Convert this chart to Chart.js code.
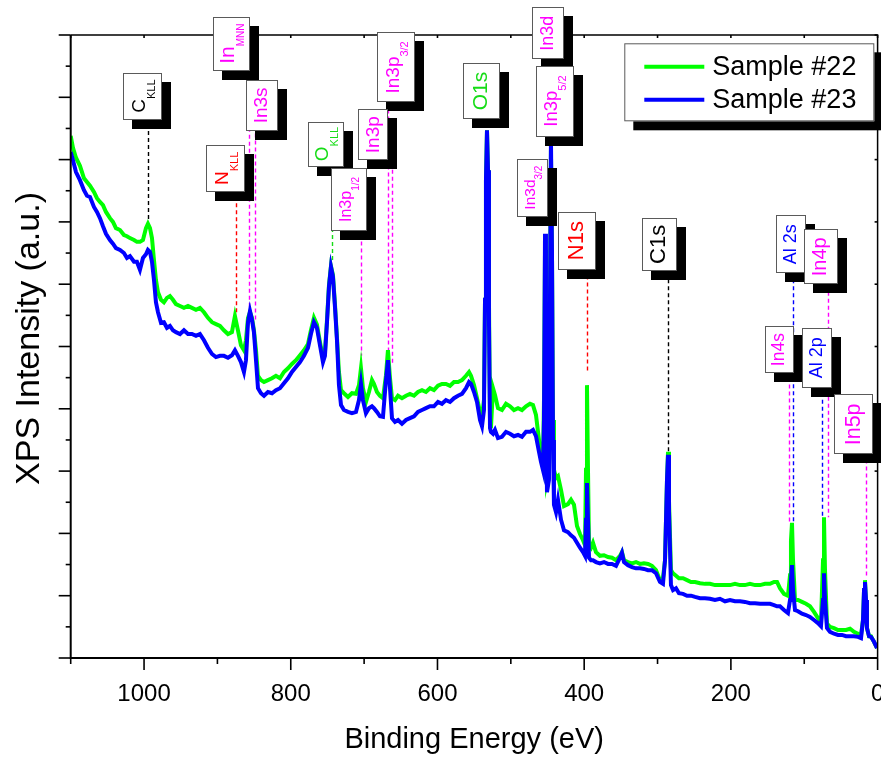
<!DOCTYPE html>
<html>
<head>
<meta charset="utf-8">
<title>XPS survey</title>
<script src="https://cdn.jsdelivr.net/npm/chart.js@4.4.1/dist/chart.umd.min.js"></script>
<style>
  html, body { margin: 0; padding: 0; background: #fff; }
  #wrap { width: 881px; height: 758px; }
</style>
</head>
<body>
<div id="wrap"><canvas id="xps" width="881" height="758"></canvas></div>
<script>
// binding energy grid (eV), shared by both survey scans
const energy = [
  1100.0, 1096.9, 1092.8, 1087.4, 1081.9, 1077.8, 1073.7, 1068.3, 1064.2, 1060.1,
  1056.0, 1051.9, 1046.5, 1042.4, 1038.3, 1032.8, 1027.4, 1023.3, 1019.2, 1013.7,
  1009.7, 1005.6, 1001.5, 997.4, 994.7, 991.9, 989.2, 986.5, 983.8, 981.0,
  976.9, 972.9, 968.8, 964.7, 960.6, 956.5, 951.0, 945.6, 940.1, 934.7,
  929.2, 923.8, 918.3, 912.9, 907.4, 902.0, 896.5, 891.1, 885.6, 880.2,
  876.1, 872.0, 867.9, 863.8, 861.1, 858.3, 855.6, 852.9, 850.2, 847.4,
  844.7, 840.6, 836.5, 831.1, 825.6, 820.2, 814.7, 809.3, 803.8, 798.4,
  792.9, 787.4, 782.0, 776.5, 772.5, 768.4, 764.3, 760.2, 756.1, 753.4,
  750.6, 747.9, 745.2, 742.5, 739.7, 737.0, 734.3, 731.5, 727.5, 722.0,
  716.6, 711.1, 707.0, 704.3, 701.6, 697.5, 693.4, 689.3, 686.6, 682.5,
  678.4, 674.3, 670.2, 667.5, 664.7, 662.0, 657.9, 653.8, 648.4, 642.9,
  637.5, 632.0, 626.6, 621.1, 615.7, 610.2, 604.8, 599.3, 593.9, 588.4,
  582.9, 577.5, 572.0, 566.6, 561.1, 557.0, 554.3, 550.2, 546.1, 542.0,
  539.3, 536.6, 535.2, 533.9, 532.5, 531.1, 529.8, 528.4, 527.1, 524.3,
  521.6, 517.5, 512.1, 506.6, 501.1, 495.7, 490.2, 484.8, 479.3, 473.9,
  469.8, 465.7, 461.6, 458.9, 456.2, 454.8, 453.4, 452.1, 450.7, 448.0,
  446.6, 445.3, 443.9, 442.5, 441.2, 438.4, 435.7, 431.6, 427.5, 422.1,
  418.0, 413.9, 409.8, 405.7, 401.6, 398.9, 397.5, 396.2, 394.8, 393.4,
  390.7, 388.0, 383.9, 378.5, 373.0, 367.5, 362.1, 356.6, 351.2, 348.5,
  345.7, 340.3, 334.8, 329.4, 323.9, 318.5, 313.0, 307.6, 302.1, 296.7,
  292.6, 289.8, 287.1, 285.7, 284.4, 281.7, 278.9, 274.8, 270.8, 265.3,
  259.8, 254.4, 248.9, 242.1, 235.3, 228.5, 221.7, 214.9, 208.0, 201.2,
  194.4, 187.6, 180.8, 174.0, 167.1, 160.3, 153.5, 146.7, 141.2, 137.1,
  133.1, 127.6, 122.2, 119.4, 118.1, 116.7, 115.3, 112.6, 108.5, 103.1,
  97.6, 92.2, 86.7, 81.3, 77.2, 74.4, 73.1, 71.7, 69.0, 64.9,
  59.4, 54.0, 48.5, 43.1, 37.6, 32.2, 26.7, 22.6, 19.9, 18.5,
  17.2, 15.8, 14.5, 11.7, 9.0, 4.9, 0.8
];

// intensity, arbitrary units
const sample22 = [
  8.38, 8.19, 8.03, 7.90, 7.70, 7.64, 7.58, 7.48, 7.38, 7.32,
  7.27, 7.16, 7.06, 7.00, 6.90, 6.87, 6.79, 6.77, 6.74, 6.71,
  6.68, 6.68, 6.71, 6.90, 6.97, 6.90, 6.74, 6.39, 6.07, 5.87,
  5.75, 5.71, 5.78, 5.81, 5.75, 5.68, 5.65, 5.62, 5.65, 5.62,
  5.59, 5.62, 5.55, 5.46, 5.39, 5.36, 5.33, 5.26, 5.20, 5.23,
  5.49, 5.26, 5.02, 4.94, 5.10, 5.46, 5.55, 5.46, 5.26, 4.94,
  4.53, 4.46, 4.43, 4.46, 4.49, 4.53, 4.49, 4.59, 4.65, 4.72,
  4.78, 4.86, 4.94, 5.04, 5.26, 5.46, 5.35, 5.07, 4.82, 4.91,
  5.43, 5.99, 6.29, 6.15, 5.67, 5.14, 4.59, 4.30, 4.25, 4.19,
  4.25, 4.24, 4.38, 4.65, 4.33, 4.11, 4.27, 4.46, 4.40, 4.27,
  4.21, 4.17, 4.54, 4.94, 4.49, 4.17, 4.14, 4.21, 4.17, 4.21,
  4.24, 4.21, 4.27, 4.30, 4.27, 4.33, 4.30, 4.37, 4.40, 4.40,
  4.37, 4.43, 4.43, 4.46, 4.53, 4.59, 4.53, 4.38, 4.17, 3.95,
  3.88, 4.14, 5.75, 7.67, 8.47, 7.83, 5.75, 3.82, 3.69, 4.33,
  4.22, 4.01, 3.98, 4.08, 4.04, 3.98, 4.01, 3.98, 4.04, 4.08,
  4.06, 3.90, 3.50, 3.26, 3.10, 4.14, 6.55, 4.78, 2.86, 3.02,
  5.75, 8.15, 6.55, 3.82, 3.02, 2.89, 2.92, 2.70, 2.44, 2.47,
  2.54, 2.46, 2.12, 1.99, 1.89, 1.81, 3.02, 4.38, 3.02, 1.81,
  1.77, 1.85, 1.70, 1.64, 1.65, 1.62, 1.61, 1.57, 1.64, 1.70,
  1.57, 1.54, 1.52, 1.54, 1.51, 1.52, 1.51, 1.48, 1.41, 1.25,
  1.28, 1.57, 2.86, 3.31, 2.54, 1.41, 1.36, 1.32, 1.28, 1.28,
  1.25, 1.22, 1.22, 1.20, 1.19, 1.19, 1.17, 1.17, 1.17, 1.17,
  1.19, 1.17, 1.17, 1.19, 1.17, 1.17, 1.19, 1.19, 1.22, 1.22,
  1.12, 1.03, 1.00, 1.33, 1.89, 2.17, 1.57, 0.93, 0.93, 0.90,
  0.87, 0.83, 0.74, 0.64, 0.58, 1.57, 2.26, 1.41, 0.55, 0.50,
  0.48, 0.45, 0.45, 0.45, 0.47, 0.42, 0.39, 0.37, 0.61, 1.09,
  1.25, 0.93, 0.48, 0.35, 0.35, 0.26, 0.16
];

const sample23 = [
  8.12, 7.99, 7.80, 7.67, 7.51, 7.42, 7.40, 7.24, 7.16, 7.06,
  6.93, 6.81, 6.71, 6.65, 6.58, 6.55, 6.50, 6.42, 6.45, 6.36,
  6.36, 6.23, 6.42, 6.48, 6.55, 6.52, 6.36, 6.07, 5.71, 5.55,
  5.38, 5.39, 5.30, 5.33, 5.26, 5.23, 5.20, 5.26, 5.20, 5.20,
  5.17, 5.20, 5.10, 4.98, 4.88, 4.83, 4.85, 4.85, 4.82, 4.86,
  4.94, 4.85, 4.75, 4.59, 4.78, 5.39, 5.57, 5.43, 5.23, 4.78,
  4.33, 4.25, 4.21, 4.27, 4.25, 4.30, 4.33, 4.41, 4.49, 4.59,
  4.67, 4.75, 4.85, 4.98, 5.20, 5.39, 5.30, 5.02, 4.75, 4.85,
  5.39, 5.96, 6.28, 6.12, 5.63, 5.10, 4.38, 4.06, 3.98, 3.95,
  3.93, 3.95, 4.14, 4.40, 4.14, 3.93, 4.01, 4.04, 4.01, 3.95,
  3.88, 3.87, 4.46, 4.78, 4.33, 3.85, 3.79, 3.82, 3.76, 3.82,
  3.85, 3.88, 3.95, 3.98, 4.01, 4.04, 4.04, 4.11, 4.08, 4.14,
  4.11, 4.17, 4.21, 4.24, 4.33, 4.43, 4.40, 4.27, 4.11, 3.82,
  3.72, 3.98, 5.75, 7.67, 8.47, 7.83, 5.43, 3.69, 3.63, 3.60,
  3.66, 3.53, 3.55, 3.63, 3.60, 3.56, 3.58, 3.55, 3.63, 3.63,
  3.66, 3.56, 3.31, 3.15, 3.02, 3.82, 6.81, 4.46, 2.66, 2.86,
  5.75, 8.35, 6.55, 3.50, 2.46, 2.34, 2.54, 2.22, 2.05, 2.02,
  1.97, 1.93, 1.85, 1.77, 1.70, 1.64, 2.22, 2.81, 2.22, 1.61,
  1.57, 1.57, 1.54, 1.52, 1.54, 1.51, 1.51, 1.48, 1.61, 1.69,
  1.54, 1.49, 1.46, 1.44, 1.44, 1.43, 1.41, 1.41, 1.36, 1.22,
  1.19, 1.57, 2.86, 3.26, 2.38, 1.17, 1.09, 1.12, 1.04, 1.03,
  1.00, 1.00, 0.98, 0.96, 0.96, 0.95, 0.93, 0.95, 0.91, 0.93,
  0.91, 0.91, 0.90, 0.88, 0.88, 0.87, 0.87, 0.87, 0.85, 0.83,
  0.83, 0.77, 0.72, 0.93, 1.25, 1.49, 1.09, 0.77, 0.75, 0.71,
  0.69, 0.66, 0.61, 0.56, 0.51, 0.93, 1.36, 0.93, 0.48, 0.42,
  0.39, 0.37, 0.37, 0.35, 0.35, 0.35, 0.34, 0.32, 0.61, 1.09,
  1.22, 0.93, 0.48, 0.35, 0.34, 0.26, 0.16
];

const seriesNames = ['Sample #22', 'Sample #23'];
const seriesColors = ['#00ff00', '#0000ff'];
const xTicks = [0, 200, 400, 600, 800, 1000];
const yTitle = 'XPS Intensity (a.u.)';

const FONT = '"Liberation Sans", Arial, Helvetica, sans-serif';
const MAG = '#ff00ff', RED = '#ff0000', GRN = '#16dc16', BLU = '#0000ff', BLK = '#000000';

// peak tags: text + subscript, marker energy (at), where the dashed marker stops (lineTo),
// tag centre in data units (boxE, boxV), tag size in px, font sizes
const peakLabels = [
  { main: 'C', sub: 'KLL', color: BLK, at: 994.3, lineTo: 7.00, boxE: 1001.5, boxV: 9.02, w: 39, h: 47, size: 19, subSize: 11 },
  { main: 'In', sub: 'MNN', color: MAG, at: 856.6, lineTo: 5.59, boxE: 880.6, boxV: 9.86, w: 37, h: 54, size: 21, subSize: 10 },
  { main: 'N', sub: 'KLL', color: RED, at: 874.7, lineTo: 5.51, boxE: 888.3, boxV: 7.86, w: 39, h: 47, size: 19, subSize: 11 },
  { main: 'In3s', color: MAG, at: 848.8, lineTo: 5.39, boxE: 839.3, boxV: 8.87, w: 32, h: 51, size: 19 },
  { main: 'O', sub: 'KLL', color: GRN, at: 744.2, lineTo: 6.36, boxE: 752.0, boxV: 8.25, w: 36, h: 45, size: 19, subSize: 11 },
  { main: 'In3p', sub: '3/2', color: MAG, at: 667.9, lineTo: 4.74, boxE: 655.9, boxV: 9.48, w: 38, h: 70, size: 19, subSize: 11 },
  { main: 'In3p', color: MAG, at: 662.0, lineTo: 4.70, boxE: 687.5, boxV: 8.40, w: 30, h: 51, size: 19 },
  { main: 'In3p', sub: '1/2', color: MAG, at: 704.7, lineTo: 4.85, boxE: 720.8, boxV: 7.36, w: 36, h: 63, size: 16, subSize: 10 },
  { main: 'O1s', color: GRN, boxE: 539.8, boxV: 9.10, w: 37, h: 56, size: 21 },
  { main: 'In3d', color: MAG, boxE: 448.9, boxV: 10.03, w: 32, h: 52, size: 18 },
  { main: 'In3p', sub: '5/2', color: MAG, boxE: 440.0, boxV: 8.94, w: 38, h: 71, size: 18.5, subSize: 11 },
  { main: 'In3d', sub: '3/2', color: MAG, boxE: 470.1, boxV: 7.55, w: 31, h: 58, size: 15.5, subSize: 10 },
  { main: 'N1s', color: RED, at: 396.6, lineTo: 4.57, boxE: 410.0, boxV: 6.70, w: 38, h: 58, size: 22 },
  { main: 'C1s', color: BLK, at: 285.3, lineTo: 3.31, boxE: 297.7, boxV: 6.64, w: 35, h: 53, size: 22 },
  { main: 'Al 2s', color: BLU, at: 114.9, lineTo: 2.17, boxE: 118.5, boxV: 6.64, w: 30, h: 58, size: 18 },
  { main: 'In4p', color: MAG, at: 68.0, lineTo: 2.26, boxE: 77.8, boxV: 6.44, w: 34, h: 55, size: 20 },
  { main: 'In4s', color: MAG, at: 120.4, lineTo: 2.17, boxE: 133.5, boxV: 4.95, w: 29, h: 47, size: 17.5 },
  { main: 'Al 2p', color: BLU, at: 75.4, lineTo: 2.26, boxE: 82.2, boxV: 4.82, w: 30, h: 60, size: 18 },
  { main: 'In5p', color: MAG, at: 15.8, lineTo: 1.28, boxE: 32.4, boxV: 3.75, w: 39, h: 60, size: 21.5 }
];

const SHADOW = 9;

function shadowBox(ctx, x, y, w, h) {
  ctx.fillStyle = '#000';
  ctx.fillRect(x + SHADOW, y + SHADOW, w, h);
  ctx.fillStyle = '#fff';
  ctx.fillRect(x, y, w, h);
  ctx.strokeStyle = '#5a5a5a';
  ctx.lineWidth = 1;
  ctx.strokeRect(x + 0.5, y + 0.5, w - 1, h - 1);
}

function tick(ctx, x1, y1, x2, y2) {
  ctx.beginPath();
  ctx.moveTo(x1, y1);
  ctx.lineTo(x2, y2);
  ctx.stroke();
}

const decor = {
  id: 'decor',
  beforeDatasetsDraw(chart) {
    // dashed peak markers sit under the spectra
    const { ctx, scales: { x, y } } = chart;
    ctx.save();
    ctx.lineWidth = 1.4;
    ctx.setLineDash([4, 3]);
    peakLabels.forEach(p => {
      if (p.at == null) return;
      const px = Math.round(x.getPixelForValue(p.at)) + 0.5;
      ctx.strokeStyle = p.color;
      ctx.beginPath();
      ctx.moveTo(px, y.getPixelForValue(p.boxV));
      ctx.lineTo(px, y.getPixelForValue(p.lineTo));
      ctx.stroke();
    });
    ctx.restore();
  },
  afterDatasetsDraw(chart) {
    const { ctx, chartArea: { left, right, top, bottom }, scales: { x, y } } = chart;
    ctx.save();

    // frame
    ctx.strokeStyle = '#000';
    ctx.lineWidth = 1.5;
    ctx.beginPath();
    ctx.moveTo(left, top); ctx.lineTo(right, top); ctx.lineTo(right, bottom);
    ctx.stroke();
    ctx.lineWidth = 2;
    ctx.beginPath();
    ctx.moveTo(left, top); ctx.lineTo(left, bottom); ctx.lineTo(right, bottom);
    ctx.stroke();

    // ticks: outward on bottom/left, small inward marks on top/right
    ctx.lineWidth = 1.6;
    for (let e = 0; e <= 1100; e += 100) {
      const px = x.getPixelForValue(e);
      tick(ctx, px, bottom, px, bottom + (e % 200 === 0 ? 12 : 6));
      tick(ctx, px, top, px, top + 3);
    }
    for (let v = 0; v <= 10; v += 0.5) {
      const py = y.getPixelForValue(v);
      tick(ctx, left, py, left - (v % 1 === 0 ? 12 : 5), py);
      if (v % 1 === 0) tick(ctx, right, py, right - 3, py);
    }

    // y axis title, sits a little above the axis middle
    ctx.save();
    ctx.translate(29.5, (top + bottom) / 2 - 8);
    ctx.rotate(-Math.PI / 2);
    ctx.font = '34px ' + FONT;
    ctx.fillStyle = '#000';
    ctx.textAlign = 'center';
    ctx.textBaseline = 'middle';
    ctx.fillText(yTitle, 0, 0);
    ctx.restore();

    // peak tags
    peakLabels.forEach(p => {
      const cx = x.getPixelForValue(p.boxE);
      const cy = y.getPixelForValue(p.boxV);
      shadowBox(ctx, Math.round(cx - p.w / 2), Math.round(cy - p.h / 2), p.w, p.h);
      ctx.save();
      ctx.translate(cx, cy);
      ctx.rotate(-Math.PI / 2);
      const mainFont = p.size + 'px ' + FONT;
      const subFont = (p.subSize || 10) + 'px ' + FONT;
      ctx.font = mainFont;
      const wm = ctx.measureText(p.main).width;
      let ws = 0;
      if (p.sub) { ctx.font = subFont; ws = ctx.measureText(p.sub).width; }
      const x0 = -(wm + ws) / 2;
      ctx.fillStyle = p.color;
      ctx.textAlign = 'left';
      ctx.textBaseline = 'middle';
      ctx.font = mainFont;
      ctx.fillText(p.main, x0, p.sub ? -0.15 * p.size : 0);
      if (p.sub) {
        ctx.font = subFont;
        ctx.fillText(p.sub, x0 + wm, 0.45 * p.size);
      }
      ctx.restore();
    });

    // legend
    const lx = right - 253.3, ly = top + 8.3, lw = 250, lh = 78;
    shadowBox(ctx, lx, ly, lw, lh);
    ctx.font = '27px ' + FONT;
    ctx.textAlign = 'left';
    ctx.textBaseline = 'middle';
    chart.data.datasets.forEach((ds, i) => {
      const yy = ly + 23.4 + i * 33;
      ctx.strokeStyle = ds.borderColor;
      ctx.lineWidth = 4;
      tick(ctx, lx + 20, yy, lx + 80, yy);
      ctx.fillStyle = '#000';
      ctx.fillText(ds.label, lx + 88, yy + 1);
    });

    ctx.restore();
  }
};

new Chart(document.getElementById('xps'), {
  type: 'line',
  data: {
    datasets: seriesNames.map((name, i) => ({
      label: name,
      data: energy.map((e, k) => ({ x: e, y: (i === 0 ? sample22 : sample23)[k] })),
      borderColor: seriesColors[i],
      borderWidth: 4,
      pointRadius: 0,
      tension: 0,
      fill: false,
      order: 2 - i
    }))
  },
  options: {
    responsive: false,
    animation: false,
    devicePixelRatio: 1,
    layout: { autoPadding: false, padding: { top: 35, right: 3.4, left: 0, bottom: 0 } },
    plugins: { legend: { display: false }, tooltip: { enabled: false } },
    scales: {
      x: {
        type: 'linear',
        reverse: true,
        min: 0,
        max: 1100,
        afterFit: s => { s.height = 100; s.paddingLeft = 0; s.paddingRight = 0; },
        afterBuildTicks: s => { s.ticks = xTicks.map(v => ({ value: v })); },
        grid: { display: false, drawTicks: false },
        border: { display: false },
        ticks: {
          padding: 22, color: '#000', maxRotation: 0, autoSkip: false,
          font: { family: FONT, size: 24 },
          callback: v => String(v)
        },
        title: { display: true, text: 'Binding Energy (eV)', color: '#000', font: { family: FONT, size: 29 }, padding: { top: 0, bottom: 1 } }
      },
      y: {
        min: 0,
        max: 10,
        afterFit: s => { s.width = 70.7; },
        grid: { display: false, drawTicks: false },
        border: { display: false },
        ticks: { display: false },
        title: { display: false }
      }
    }
  },
  plugins: [decor]
});
</script>
</body>
</html>
